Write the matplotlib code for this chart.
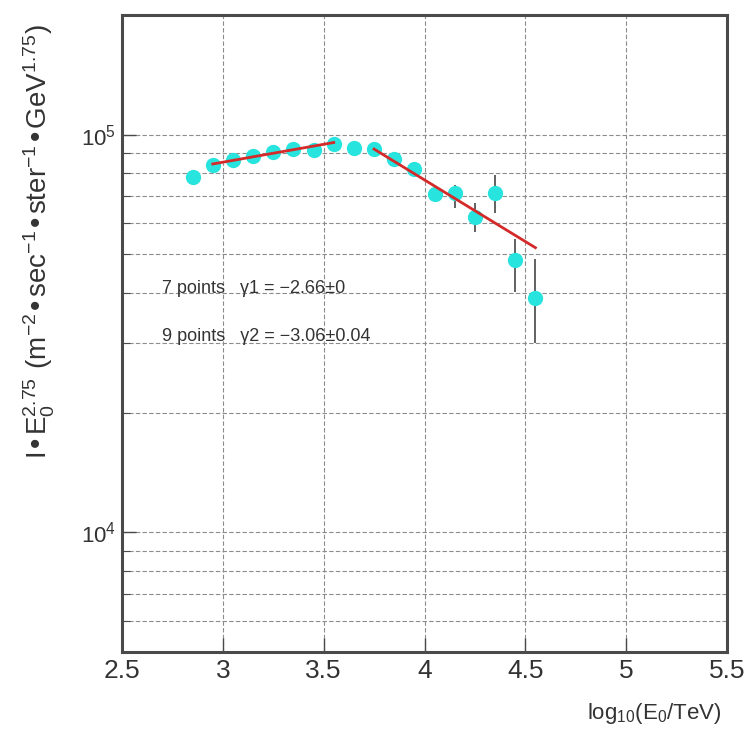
import numpy as np
import matplotlib
matplotlib.use("Agg")
import matplotlib.pyplot as plt
from matplotlib import font_manager as fm
from matplotlib.ticker import FixedLocator, NullFormatter, NullLocator, FuncFormatter, LogLocator

# ---------------- data ----------------
log_e0 = [2.85, 2.95, 3.05, 3.15, 3.25, 3.35, 3.45, 3.55, 3.65,
          3.75, 3.85, 3.95, 4.05, 4.15, 4.25, 4.35, 4.45, 4.55]
flux = [78300, 83900, 86400, 88500, 90400, 92200, 91600, 94900, 92500,
        92000, 86800, 81900, 70900, 71300, 62000, 71300, 48300, 38900]
err_lo = [800, 800, 800, 800, 800, 900, 900, 1000, 1000,
          1100, 1300, 1600, 2500, 5900, 5200, 7800, 8200, 9000]
err_hi = [800, 800, 800, 800, 800, 900, 900, 1000, 1000,
          1100, 1300, 1600, 2500, 3400, 5300, 7900, 6500, 9900]

fit1_range = [2.95, 3.55]
fit1_norm = 84400
gamma1 = -2.66
fit2_range = [3.75, 4.55]
fit2_norm = 92000
gamma2 = -3.06
spectral_weight = 2.75

x_ticks = [2.5, 3, 3.5, 4, 4.5, 5, 5.5]
x_tick_labels = ["2.5", "3", "3.5", "4", "4.5", "5", "5.5"]
y_major = [1e4, 1e5]
fit_texts = ["7 points   \u03b31 = \u22122.66\u00b10",
             "9 points   \u03b32 = \u22123.06\u00b10.04"]
fit_text_pos = [(2.70, 4.0e4), (2.70, 3.02e4)]

# ---------------- fonts ----------------
def has_font(name):
    try:
        fm.findfont(fm.FontProperties(family=name), fallback_to_default=False)
        return True
    except Exception:
        return False

plt.rcParams["font.family"] = ["Liberation Sans", "DejaVu Sans"]
plt.rcParams["mathtext.default"] = "regular"
narrow = has_font("Liberation Sans Narrow")

# ---------------- figure ----------------
fig = plt.figure(figsize=(7.48, 7.35), dpi=100)
fig.patch.set_facecolor("white")
ax = fig.add_axes([122 / 748, 83 / 735, 605 / 748, 637 / 735])

frame_col = "#4a4a4a"
grid_col = "#8c8c8c"

ax.set_yscale("log")
ax.set_xlim(2.5, 5.5)
ax.set_ylim(5000, 2.0e5)

# ticks & grid
ax.yaxis.set_major_locator(FixedLocator(y_major))
ax.yaxis.set_minor_locator(LogLocator(base=10, subs=[2, 3, 4, 5, 6, 7, 8, 9]))
ax.yaxis.set_major_formatter(FuncFormatter(lambda v, p: r"$\mathregular{10^{%d}}$" % int(round(np.log10(v)))))
ax.yaxis.set_minor_formatter(NullFormatter())
ax.xaxis.set_major_locator(FixedLocator(x_ticks))
ax.set_xticklabels(x_tick_labels)
ax.xaxis.set_minor_locator(NullLocator())

ax.grid(True, which="both", axis="y", color=grid_col, lw=0.8, linestyle=(0, (4, 2)))
ax.grid(True, which="major", axis="x", color=grid_col, lw=0.8, linestyle=(0, (4, 2)))
ax.set_axisbelow(True)

ax.tick_params(axis="x", which="major", direction="in", length=10, width=1.0,
               color=frame_col, labelsize=19, pad=5, top=False)
ax.tick_params(axis="y", which="major", direction="in", length=10, width=1.0,
               color=frame_col, labelsize=16, pad=4, right=False)
ax.tick_params(axis="y", which="minor", direction="in", length=6, width=0.8,
               color=frame_col, right=False)
for lab in ax.get_xticklabels() + ax.get_yticklabels():
    lab.set_color("#333333")

for s in ax.spines.values():
    s.set_color(frame_col)
    s.set_linewidth(2.2)

# data with error bars
yerr = np.array([err_lo, err_hi])
ax.errorbar(log_e0, flux, yerr=yerr, fmt="none", ecolor="#555555", elinewidth=1.3,
            capsize=0, zorder=3)
ax.plot(log_e0, flux, "o", color="#28e4de", markersize=11, markeredgewidth=0, zorder=4)

# fits
for rng, norm, g in [(fit1_range, fit1_norm, gamma1), (fit2_range, fit2_norm, gamma2)]:
    xs = np.linspace(rng[0], rng[1], 60)
    ys = norm * 10 ** ((g + spectral_weight) * (xs - rng[0]))
    ax.plot(xs, ys, color="#d42a2a", lw=2.0, zorder=5)

for t, (tx, ty) in zip(fit_texts, fit_text_pos):
    ax.text(tx, ty, t, fontsize=13, color="#333333", ha="left", va="baseline", zorder=6)

# axis titles
xlab_family = ["Liberation Sans Narrow", "Liberation Sans"] if narrow else ["Liberation Sans"]
xlab_size = 19 if narrow else 16
fig.text(722 / 748, 1 - 714 / 735, r"$\mathregular{log_{10}(E_{0}/TeV)}$",
         ha="right", va="center", fontsize=xlab_size, family=xlab_family, color="#333333")
ylab = "$\\mathregular{I\u2022E_{0}^{2.75}\\ (m^{-2}\u2022sec^{-1}\u2022ster^{-1}\u2022GeV^{1.75})}$"
fig.text(39 / 748, 1 - 242 / 735, ylab,
         ha="center", va="center", rotation=90, fontsize=20, color="#333333")

fig.savefig("out.png", dpi=100, facecolor="white")
